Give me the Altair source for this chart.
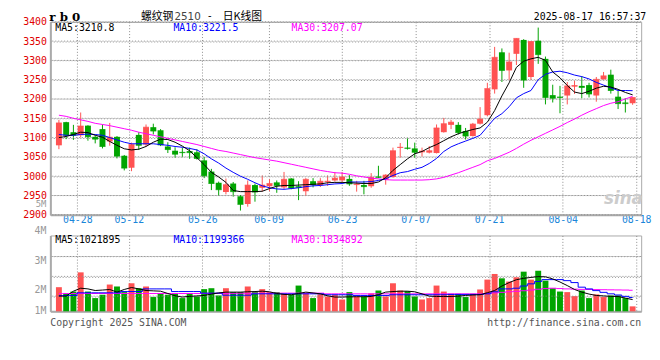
import altair as alt
import pandas as pd

# ---------------- data ----------------
dates = ["04-23", "04-24", "04-25", "04-28", "04-29", "04-30",
         "05-06", "05-07", "05-08", "05-09", "05-12", "05-13", "05-14", "05-15", "05-16",
         "05-19", "05-20", "05-21", "05-22", "05-23", "05-26", "05-27", "05-28", "05-29", "05-30",
         "06-03", "06-04", "06-05", "06-06", "06-09", "06-10", "06-11", "06-12", "06-13",
         "06-16", "06-17", "06-18", "06-19", "06-20", "06-23", "06-24", "06-25", "06-26", "06-27", "06-30",
         "07-01", "07-02", "07-03", "07-04", "07-07", "07-08", "07-09", "07-10", "07-11",
         "07-14", "07-15", "07-16", "07-17", "07-18", "07-21", "07-22", "07-23", "07-24", "07-25",
         "07-28", "07-29", "07-30", "07-31", "08-01", "08-04", "08-05", "08-06", "08-07", "08-08",
         "08-11", "08-12", "08-13", "08-14", "08-15", "08-18"]

opens = [3080, 3140, 3114, 3106, 3131, 3102, 3122, 3090, 3102, 3053,
         3022, 3107, 3082, 3127, 3119, 3077, 3066, 3063, 3065, 3062,
         3041, 3012, 2983, 2959, 2981, 2948, 2928, 2977, 2970, 2974,
         2984, 2971, 2994, 2974, 2961, 2987, 2977, 2985, 2989, 2989,
         2993, 2977, 2977, 2974, 2999, 2991, 2998, 3073, 3074, 3072,
         3062, 3061, 3060, 3114, 3133, 3133, 3117, 3104, 3136, 3158,
         3225, 3321, 3274, 3317, 3353, 3257, 3351, 3304, 3210, 3206,
         3209, 3232, 3234, 3236, 3209, 3251, 3263, 3206, 3191, 3189]
highs = [3146, 3141, 3133, 3165, 3132, 3105, 3134, 3138, 3104, 3055,
         3087, 3114, 3134, 3136, 3122, 3088, 3075, 3074, 3074, 3070,
         3050, 3019, 2986, 2994, 2985, 2951, 2989, 2981, 3002, 2992,
         2989, 3011, 2995, 2987, 2995, 2995, 2995, 3002, 3011, 3011,
         3003, 2988, 2988, 3008, 3027, 3005, 3074, 3086, 3098, 3087,
         3074, 3078, 3134, 3151, 3146, 3140, 3125, 3138, 3179, 3242,
         3335, 3331, 3320, 3357, 3355, 3350, 3385, 3310, 3237, 3234,
         3244, 3247, 3259, 3242, 3257, 3270, 3276, 3221, 3202, 3204]
lows = [3070, 3096, 3094, 3100, 3092, 3085, 3072, 3079, 3046, 3015,
        3013, 3068, 3077, 3108, 3078, 3060, 3048, 3049, 3045, 3043,
        2995, 2964, 2949, 2953, 2947, 2911, 2921, 2934, 2960, 2961,
        2957, 2967, 2966, 2938, 2950, 2971, 2972, 2975, 2986, 2985,
        2975, 2960, 2953, 2970, 2995, 2978, 2996, 3048, 3069, 3048,
        3051, 3059, 3059, 3113, 3122, 3108, 3095, 3103, 3134, 3155,
        3214, 3244, 3249, 3288, 3229, 3249, 3291, 3186, 3191, 3163,
        3186, 3213, 3202, 3204, 3193, 3250, 3214, 3174, 3165, 3185]
closes = [3138, 3106, 3106, 3130, 3102, 3096, 3077, 3101, 3052, 3021,
          3082, 3080, 3127, 3117, 3081, 3069, 3057, 3061, 3061, 3046,
          3001, 2981, 2965, 2978, 2960, 2927, 2977, 2959, 2977, 2981,
          2976, 2992, 2969, 2971, 2992, 2978, 2987, 2987, 2995, 2998,
          2980, 2979, 2973, 2997, 2997, 3003, 3066, 3075, 3072, 3062,
          3065, 3066, 3125, 3136, 3140, 3113, 3104, 3135, 3148, 3227,
          3308, 3274, 3296, 3357, 3249, 3349, 3315, 3204, 3202, 3204,
          3234, 3235, 3230, 3213, 3251, 3260, 3222, 3188, 3188, 3204]

ma5 = [3100, 3103, 3108, 3114, 3113, 3106, 3101, 3090, 3080, 3071,
       3068, 3070, 3077, 3088, 3096, 3095, 3088, 3078, 3066, 3048,
       3030, 3010, 2998, 2984, 2963, 2960, 2960, 2960, 2961, 2968,
       2974, 2976, 2976, 2977, 2978, 2979, 2980, 2983, 2984, 2984,
       2983, 2982, 2981, 2981, 2985, 2996, 3015, 3030, 3045, 3058,
       3064, 3074, 3082, 3092, 3102, 3110, 3116, 3121, 3125, 3140,
       3170, 3208, 3242, 3282, 3298, 3304, 3308, 3300, 3270, 3255,
       3235, 3218, 3214, 3220, 3228, 3233, 3231, 3225, 3217, 3210.8]
ma10 = [3108, 3106, 3106, 3108, 3109, 3108, 3106, 3100, 3094, 3088,
        3084, 3084, 3084, 3084, 3082, 3080, 3077, 3075, 3072, 3068,
        3058, 3045, 3034, 3021, 3010, 3000, 2992, 2983, 2975, 2970,
        2967, 2966, 2968, 2970, 2973, 2975, 2976, 2978, 2980, 2981,
        2985, 2985, 2985, 2986, 2989, 2993, 3002, 3009, 3012, 3018,
        3023, 3033, 3046, 3064, 3076, 3084, 3091, 3098, 3106, 3128,
        3150, 3162, 3180, 3203, 3214, 3222, 3250, 3264, 3270, 3272,
        3268, 3262, 3258, 3252, 3243, 3236, 3229, 3222, 3222, 3221.5]
ma30 = [3158, 3155, 3150, 3146, 3142, 3137, 3134, 3131, 3127, 3123,
        3119, 3114, 3110, 3106, 3102, 3098, 3094, 3090, 3086, 3082,
        3077, 3072, 3067, 3064, 3060, 3056, 3052, 3048, 3045, 3042,
        3039, 3035, 3031, 3027, 3023, 3019, 3015, 3012, 3009, 3008,
        3005, 3001, 2998, 2995, 2993, 2991, 2990, 2990, 2990, 2990,
        2990, 2991, 2993, 2997, 3003, 3009, 3016, 3023, 3030, 3040,
        3046, 3054, 3062, 3072, 3083, 3093, 3102, 3111, 3120, 3129,
        3139, 3148, 3158, 3167, 3175, 3183, 3189, 3193, 3200, 3207.07]

# volume, millions of lots
vols = [2.10, 1.52, 1.72, 3.39, 1.72, 1.15, 1.44, 2.33, 2.16, 1.67,
        2.44, 2.01, 2.16, 1.24, 1.52, 1.44, 1.52, 1.15, 1.55, 1.29,
        1.93, 2.01, 1.38, 2.01, 1.67, 1.67, 2.16, 1.67, 1.93, 1.67,
        1.67, 1.52, 1.44, 2.24, 1.58, 1.15, 1.49, 1.29, 1.44, 1.03,
        1.67, 1.29, 1.29, 1.55, 1.81, 1.29, 2.44, 1.81, 1.75, 1.29,
        1.03, 1.15, 2.24, 1.72, 1.52, 1.52, 1.24, 1.52, 1.90, 2.76,
        3.25, 2.87, 2.59, 2.96, 3.45, 2.76, 3.53, 2.67, 2.01, 1.72,
        1.67, 1.32, 1.81, 1.15, 1.47, 1.24, 1.38, 1.38, 1.15, 0.43]
vma5 = [1.32, 1.32, 1.75, 2.01, 1.95, 1.81, 1.85, 1.90, 1.67, 1.90,
        2.07, 1.95, 1.81, 1.78, 1.75, 1.55, 1.35, 1.24, 1.30, 1.34,
        1.38, 1.50, 1.60, 1.67, 1.67, 1.67, 1.70, 1.72, 1.75, 1.70,
        1.55, 1.47, 1.44, 1.55, 1.67, 1.60, 1.52, 1.35, 1.24, 1.24,
        1.26, 1.27, 1.27, 1.29, 1.45, 1.67, 1.72, 1.75, 1.75, 1.70,
        1.52, 1.32, 1.29, 1.29, 1.29, 1.32, 1.38, 1.42, 1.44, 1.62,
        1.81, 2.20, 2.50, 2.75, 2.87, 2.95, 3.02, 3.00, 2.82, 2.55,
        2.24, 1.90, 1.67, 1.50, 1.38, 1.34, 1.30, 1.29, 1.15, 1.02]
vma10 = [1.38, 1.38, 1.38, 1.61, 1.61, 1.61, 1.61, 1.61, 1.61, 1.72,
         1.72, 1.72, 1.95, 1.95, 1.95, 1.95, 1.72, 1.72, 1.72, 1.72,
         1.58, 1.58, 1.58, 1.40, 1.40, 1.40, 1.40, 1.52, 1.52, 1.52,
         1.52, 1.52, 1.52, 1.52, 1.52, 1.52, 1.52, 1.44, 1.44, 1.44,
         1.44, 1.38, 1.38, 1.38, 1.38, 1.38, 1.44, 1.44, 1.44, 1.44,
         1.44, 1.44, 1.44, 1.44, 1.47, 1.47, 1.47, 1.47, 1.47, 1.52,
         1.70, 1.95, 1.95, 2.01, 2.20, 2.39, 2.60, 2.76, 2.76, 2.76,
         2.67, 2.50, 2.10, 1.95, 1.80, 1.65, 1.52, 1.42, 1.30, 1.20]
vma30 = [1.55, 1.55, 1.55, 1.55, 1.55, 1.55, 1.55, 1.55, 1.55, 1.55,
         1.55, 1.55, 1.55, 1.55, 1.55, 1.55, 1.55, 1.55, 1.55, 1.55,
         1.56, 1.56, 1.56, 1.56, 1.56, 1.57, 1.57, 1.57, 1.57, 1.57,
         1.58, 1.58, 1.58, 1.58, 1.58, 1.58, 1.58, 1.52, 1.52, 1.52,
         1.52, 1.52, 1.52, 1.52, 1.52, 1.52, 1.52, 1.52, 1.52, 1.52,
         1.52, 1.52, 1.52, 1.52, 1.52, 1.52, 1.52, 1.52, 1.52, 1.55,
         1.60, 1.65, 1.70, 1.74, 1.79, 1.85, 1.92, 1.98, 2.01, 1.98,
         1.95, 1.93, 1.91, 1.90, 1.89, 1.88, 1.87, 1.86, 1.85, 1.83]
vol_ma_legend = ["1021895", "1199366", "1834892"]

tick_labels = ["04-28", "05-12", "05-26", "06-09", "06-23", "07-07", "07-21", "08-04", "08-18"]
price_ticks = list(range(2900, 3401, 50))
vol_grid = [1.32, 3.04, 4.77]
vol_axis_labels = ["4M", "3M", "2M", "1M"]

# ---------------- styling ----------------
RED = "#ff5252"
GREEN = "#00a400"
MONO = "DejaVu Sans Mono"
GRID = "#8a8a8a"
FRAME = "#aaaaaa"
N = len(dates)

df = pd.DataFrame({"i": list(range(N)), "date": dates, "open": opens, "high": highs,
                   "low": lows, "close": closes, "ma5": ma5, "ma10": ma10, "ma30": ma30,
                   "vol": vols, "vma5": vma5, "vma10": vma10, "vma30": vma30})

# Sina places its date grid at n/(N-1) steps while candles use n/N steps
tick_pos = [dates.index(t) * N / (N - 1) for t in tick_labels]
expr = "'" + tick_labels[-1] + "'"
for p, t in reversed(list(zip(tick_pos[:-1], tick_labels[:-1]))):
    expr = f"datum.value < {p + 0.5:.3f} ? '{t}' : ({expr})"

base = alt.Chart(df).transform_calculate(xc="datum.i + 0.5")
updown = alt.condition("datum.close >= datum.open", alt.value(RED), alt.value(GREEN))
xscale = alt.Scale(domain=[0, N], nice=False, zero=False)


def txt(text, x, y, color="black", size=10, font=MONO, align="left", **kw):
    return alt.Chart(pd.DataFrame({"t": [text]})).mark_text(
        align=align, baseline="middle", font=font, fontSize=size, color=color, **kw
    ).encode(text="t:N", x=alt.value(x), y=alt.value(y))


# ---------------- price panel ----------------
ax_x_price = alt.Axis(
    values=tick_pos, labelExpr=expr, title=None, grid=True, gridColor=GRID, gridDash=[1, 2],
    gridOpacity=1, ticks=False, domainColor=FRAME, domainWidth=2, labelColor="#1a86d9",
    labelFont=MONO, labelFontSize=10, labelPadding=0, labelFlush=True, labelOverlap=False)
ax_y_price = alt.Axis(values=price_ticks, title=None, grid=True, gridColor=GRID,
                      gridDash=[1, 2], gridOpacity=1, ticks=False, domainColor=FRAME,
                      domainWidth=2, labelColor="#e00000", labelFont=MONO, labelFontSize=10,
                      labelPadding=4, format="d", labelOverlap=False)
yscale_price = alt.Scale(domain=[2900, 3400], nice=False, zero=False)


def XP():
    return alt.X("xc:Q", scale=xscale, axis=ax_x_price)


def YP(field):
    return alt.Y(field, scale=yscale_price, axis=ax_y_price)


hgrid_p = alt.Chart(pd.DataFrame({"g": price_ticks})).mark_rule(
    color=GRID, strokeDash=[1, 2], strokeWidth=1).encode(y=YP("g:Q"))
wicks = base.mark_rule(strokeWidth=1).encode(x=XP(), y=YP("low:Q"), y2="high:Q", color=updown)
bodies = base.mark_bar(size=6).encode(x=XP(), y=YP("open:Q"), y2="close:Q", color=updown)
flats = base.mark_tick(orient="horizontal", size=6, thickness=1).encode(
    x=XP(), y=YP("close:Q"), color=updown)
l30 = base.mark_line(color="#ff00ff", strokeWidth=1).encode(x=XP(), y=YP("ma30:Q"))
l10 = base.mark_line(color="#0000ff", strokeWidth=1).encode(x=XP(), y=YP("ma10:Q"))
l5 = base.mark_line(color="black", strokeWidth=1).encode(x=XP(), y=YP("ma5:Q"))

HY = -5
price = alt.layer(
    wicks, hgrid_p, bodies, flats, l30, l10, l5,
    txt(f"MA5:{ma5[-1]}", 5, 6.5, "black"),
    txt(f"MA10:{ma10[-1]}", 125, 6.5, "#0000ff"),
    txt(f"MA30:{ma30[-1]}", 245, 6.5, "#ff00ff"),
    txt("r b 0", -1, HY, "black", 12, "DejaVu Serif", fontWeight="bold"),
    txt("螺纹钢", 92, HY, "black", 11, "Noto Sans CJK SC"),
    txt("2510", 126, HY, "#444444", 10.5, "DejaVu Sans"),
    txt("-", 160, HY - 0.5, "black", 10, "DejaVu Sans"),
    txt("日K线图", 175, HY, "black", 11, "Noto Sans CJK SC"),
    txt("2025-08-17 16:57:37", 491, HY, "black"),
    txt("5M", -4, 185.5, "#999999", 9, align="right"),
    txt("sina", 582, 180, "#cccccc", 17, "DejaVu Sans", align="center",
        fontStyle="italic", fontWeight="bold"),
).properties(width=600, height=196)

# ---------------- volume panel ----------------
ax_x_vol = alt.Axis(values=tick_pos, labels=False, ticks=False, title=None, grid=True,
                    gridColor=GRID, gridDash=[1, 2], gridOpacity=1, domainColor=FRAME,
                    domainWidth=2)
ax_y_vol = alt.Axis(values=vol_grid, labels=False, ticks=False, title=None, grid=True,
                    gridColor=GRID, gridDash=[1, 2], gridOpacity=1, domainColor=FRAME,
                    domainWidth=2)
yscale_vol = alt.Scale(domain=[0, 6.6], nice=False)


def XV():
    return alt.X("xc:Q", scale=xscale, axis=ax_x_vol)


def YV(field):
    return alt.Y(field, scale=yscale_vol, axis=ax_y_vol)


hgrid_v = alt.Chart(pd.DataFrame({"g": vol_grid})).mark_rule(
    color=GRID, strokeDash=[1, 2], strokeWidth=1).encode(y=YV("g:Q"))
vbars = base.mark_bar(size=6).encode(x=XV(), y=YV("vol:Q"), color=updown)
v30 = base.mark_line(color="#ff00ff", strokeWidth=1, interpolate="step").encode(x=XV(), y=YV("vma30:Q"))
v10 = base.mark_line(color="#0000ff", strokeWidth=1, interpolate="step").encode(x=XV(), y=YV("vma10:Q"))
v5 = base.mark_line(color="black", strokeWidth=1).encode(x=XV(), y=YV("vma5:Q"))

vol_y = [-4.3, 25.7, 55.7, 77]
volume = alt.layer(
    vbars, hgrid_v, v30, v10, v5,
    txt(f"MA5:{vol_ma_legend[0]}", 5, 5, "black"),
    txt(f"MA10:{vol_ma_legend[1]}", 125, 5, "#0000ff"),
    txt(f"MA30:{vol_ma_legend[2]}", 245, 5, "#ff00ff"),
    *[txt(t, -4, yy, "#999999", align="right") for t, yy in zip(vol_axis_labels, vol_y)],
    txt("Copyright 2025 SINA.COM", 0, 89, "#555555"),
    txt("http://finance.sina.com.cn", 600, 89, "#555555", align="right"),
).properties(width=600, height=77)

chart = alt.vconcat(price, volume, spacing=0).properties(
    padding={"left": 14, "top": -0.5, "right": 0, "bottom": 0},
    background="white",
).configure_view(stroke=FRAME, strokeWidth=1)

chart.save("out.html", embed_options={"renderer": "svg", "actions": False})
